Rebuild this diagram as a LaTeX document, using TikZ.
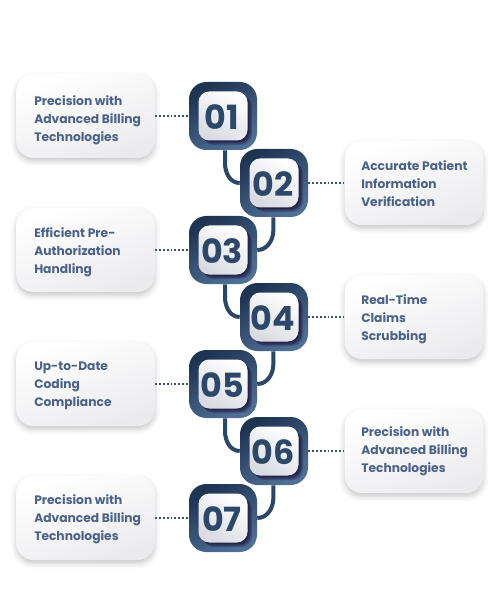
\documentclass[tikz,border=0pt]{standalone}
\usepackage{fontspec}
\setmainfont{Poppins}
\usetikzlibrary{shadows.blur}
\definecolor{txtblue}{HTML}{4A6288}
\definecolor{numblue}{HTML}{2B4769}
\definecolor{navyA}{HTML}{1E3453}
\definecolor{navyB}{HTML}{4F7096}
\definecolor{connc}{HTML}{2C4667}
\definecolor{dotc}{HTML}{3A5273}
\definecolor{shpurple}{HTML}{24244C}
\definecolor{boxgray}{HTML}{EBEBEE}
\definecolor{innergray}{HTML}{DADBE2}
\tikzset{
  outerbox/.style={minimum size=51pt, inner sep=0pt, rounded corners=13pt,
    left color=navyA, right color=navyB, shading angle=30},
  innerbox/.style={minimum size=36.75pt, inner sep=0pt, rounded corners=8pt,
    top color=white, bottom color=innergray, shading angle=-30},
  innershadow/.style={minimum size=36.75pt, inner sep=0pt, rounded corners=8pt,
    fill=shpurple},
  numtext/.style={font=\bfseries\fontsize{25}{25}\selectfont, text=numblue, inner sep=0pt},
  tbox/.style={minimum width=104pt, minimum height=63pt, inner sep=0pt, rounded corners=13pt,
    top color=white, bottom color=boxgray, shading angle=20,
    blur shadow={shadow xshift=0pt, shadow yshift=-2.5pt, shadow blur radius=4pt, shadow opacity=22}},
  ttext/.style={font=\bfseries\fontsize{9.2}{13.5}\selectfont, text=txtblue, align=left, inner sep=0pt, anchor=west},
  conn/.style={draw=connc, line width=3pt},
  dots/.style={draw=dotc, line width=1.6pt, dash pattern=on 1.4pt off 1.5pt},
}
\begin{document}
\begin{tikzpicture}[x=0.75pt,y=-0.75pt]
\useasboundingbox (0,0) rectangle (494,598);
% text boxes
\foreach \n/\cx/\cy in {01/85.5/116, 03/85.5/250, 05/85.5/384, 07/85.5/518,
  02/414/183, 04/414/317, 06/414/451}{
  \node[tbox] (t\n) at (\cx,\cy) {};
}
\node[ttext] (s01) at (34,120) {Precision with\\Advanced Billing\\Technologies};
\node[ttext] (s03) at (34,252) {Efficient Pre-\\Authorization\\Handling};
\node[ttext] (s05) at (34,386) {Up-to-Date\\Coding\\Compliance};
\node[ttext] (s07) at (34,519) {Precision with\\Advanced Billing\\Technologies};
\node[ttext] (s02) at (361,184) {Accurate Patient\\Information\\Verification};
\node[ttext] (s04) at (361,319) {Real-Time\\Claims\\Scrubbing};
\node[ttext] (s06) at (361,451) {Precision with\\Advanced Billing\\Technologies};
% number boxes
\foreach \n/\cx/\cy in {01/223/116, 02/274/183, 03/223/250, 04/274/317, 05/223/384, 06/274/451, 07/223/518}{
  \node[outerbox] (o\n) at (\cx,\cy) {};
  \node[innershadow, opacity=0.35] at (\cx+4.5,\cy+4.5) {};
  \node[innershadow, opacity=0.6] at (\cx+3,\cy+3) {};
  \node[innershadow] at (\cx+1.5,\cy+1.5) {};
  \node[innerbox] (i\n) at (\cx,\cy) {};
  \node[numtext] (n\n) at (\cx-1,\cy+1) {\n};
}
% connectors between number boxes
\draw[conn] ([xshift=1.5pt]o01.south) -- ++(0,13) to[out=-90,in=180] (o02.west);
\draw[conn] ([xshift=-0.5pt]o02.south) -- ++(0,13) to[out=-90,in=0] (o03.east);
\draw[conn] ([xshift=1.5pt]o03.south) -- ++(0,13) to[out=-90,in=180] (o04.west);
\draw[conn] ([xshift=-0.5pt]o04.south) -- ++(0,13) to[out=-90,in=0] (o05.east);
\draw[conn] ([xshift=1.5pt]o05.south) -- ++(0,13) to[out=-90,in=180] (o06.west);
\draw[conn] ([xshift=-0.5pt]o06.south) -- ++(0,13) to[out=-90,in=0] (o07.east);
% dotted links
\foreach \n in {01,03,05,07}{\draw[dots] (t\n.east) -- (o\n.west);}
\foreach \n in {02,04,06}{\draw[dots] (o\n.east) -- (t\n.west);}
\end{tikzpicture}
\end{document}
